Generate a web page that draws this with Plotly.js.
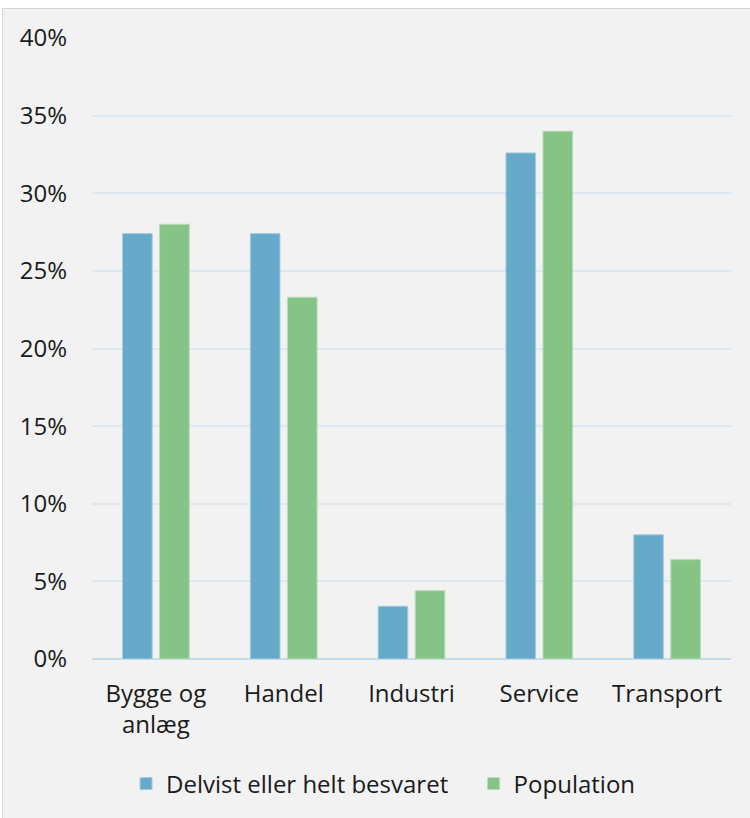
<!DOCTYPE html>
<html>
<head>
<meta charset="utf-8">
<script src="https://cdn.plot.ly/plotly-3.0.1.min.js"></script>
<style>
html,body{margin:0;padding:0;background:#ffffff;width:750px;height:818px;overflow:hidden;}
#wrap{position:absolute;left:2px;top:8px;width:747px;height:809px;background:#f2f2f2;border-left:1px solid #d6d6d6;border-top:1px solid #d6d6d6;}
#chart{width:747px;height:809px;}
</style>
</head>
<body>
<div id="wrap"><div id="chart"></div></div>
<script>
const categories = ["Bygge og<br>anlæg", "Handel", "Industri", "Service", "Transport"];
const besvaret = [0.274, 0.274, 0.034, 0.326, 0.080];
const population = [0.280, 0.233, 0.044, 0.340, 0.064];
const seriesNames = ["Delvist eller helt besvaret", "Population"];
const tickVals = [0, 0.05, 0.10, 0.15, 0.20, 0.25, 0.30, 0.35, 0.40];
const tickText = ["0%", "5%", "10%", "15%", "20%", "25%", "30%", "35%", "40%"];

const font = {family: "'Open Sans', 'Noto Sans', sans-serif", size: 24, color: "#1a1a1a"};

const traces = [
  {type: "bar", name: seriesNames[0], x: categories, y: besvaret, legend: "legend",
   marker: {color: "#67a9c9", line: {color: "#a9cde0", width: 1}}, hoverinfo: "skip"},
  {type: "bar", name: seriesNames[1], x: categories, y: population, legend: "legend2",
   marker: {color: "#86c386", line: {color: "#b8dcb8", width: 1}}, hoverinfo: "skip"}
];

const legendBase = {orientation: "h", y: -0.165, yanchor: "top", xanchor: "left",
  font: font, itemwidth: 30, bgcolor: "rgba(0,0,0,0)"};

const layout = {
  width: 747, height: 809,
  margin: {l: 89, r: 19, t: 29, b: 157},
  paper_bgcolor: "#f2f2f2", plot_bgcolor: "#f2f2f2",
  font: font,
  barmode: "group", bargap: 0.42, bargroupgap: 0.2,
  showlegend: true,
  legend: Object.assign({}, legendBase, {x: 0.0533}),
  legend2: Object.assign({}, legendBase, {x: 0.5972}),
  xaxis: {showgrid: false, zeroline: false, showline: false, ticks: "",
          tickfont: font, ticklabelstandoff: 18, fixedrange: true},
  yaxis: {range: [0, 0.40], tickvals: tickVals, ticktext: tickText,
          showgrid: true, gridcolor: "#dde8f1", gridwidth: 2,
          zeroline: true, zerolinecolor: "#c4dcea", zerolinewidth: 2,
          showline: false, ticks: "", tickfont: font, ticklabelstandoff: 24, fixedrange: true}
};

Plotly.newPlot("chart", traces, layout, {displayModeBar: false, staticPlot: true});
</script>
</body>
</html>
